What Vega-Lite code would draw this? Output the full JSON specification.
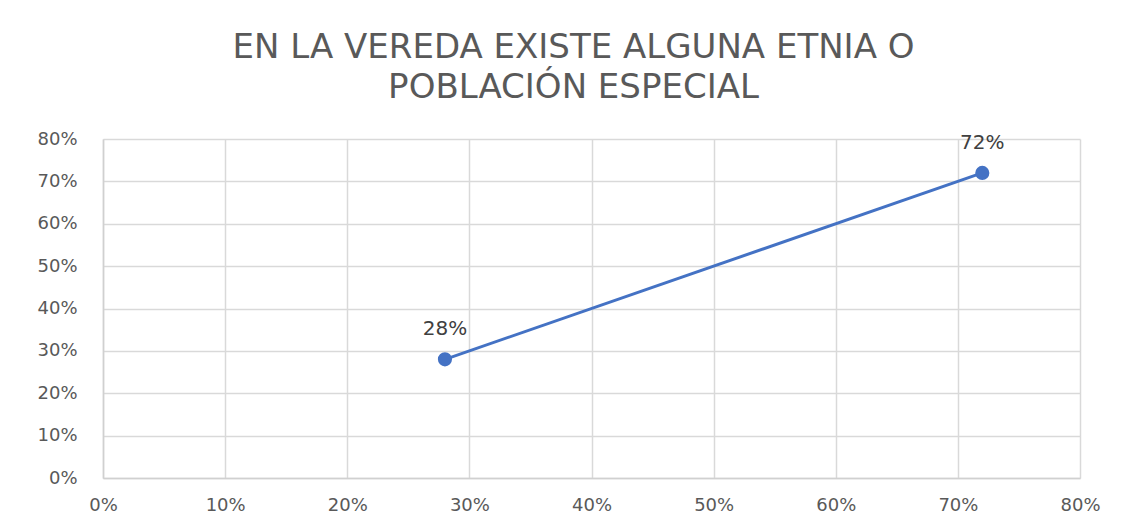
{
  "$schema": "https://vega.github.io/schema/vega-lite/v6.json",
  "width": 977,
  "height": 339,
  "autosize": "none",
  "padding": {"left": 103, "top": 139, "right": 57, "bottom": 53},
  "background": "white",
  "title": {
    "text": ["EN LA VEREDA EXISTE ALGUNA ETNIA O", "POBLACIÓN ESPECIAL"],
    "font": "DejaVu Sans",
    "fontSize": 34,
    "fontWeight": "normal",
    "color": "#595959",
    "anchor": "middle",
    "frame": "bounds",
    "lineHeight": 40,
    "offset": 25,
    "dx": 5
  },
  "config": {
    "view": {"stroke": null},
    "axis": {
      "labelFont": "DejaVu Sans",
      "labelFontSize": 18,
      "labelColor": "#595959",
      "gridColor": "#d9d9d9",
      "gridWidth": 1.5,
      "domainColor": "#d0d0d0",
      "domainWidth": 1.5,
      "ticks": false,
      "title": null,
      "labelFlush": false
    }
  },
  "data": {
    "values": [
      {"x": 0.28, "y": 0.28, "label": "28%"},
      {"x": 0.72, "y": 0.72, "label": "72%"}
    ]
  },
  "encoding": {
    "x": {"field": "x", "type": "quantitative", "scale": {"domain": [0, 0.8], "nice": false}, "axis": {"format": ".0%", "values": [0, 0.1, 0.2, 0.3, 0.4, 0.5, 0.6, 0.7, 0.8], "labelPadding": 18}},
    "y": {"field": "y", "type": "quantitative", "scale": {"domain": [0, 0.8], "nice": false}, "axis": {"format": ".0%", "values": [0, 0.1, 0.2, 0.3, 0.4, 0.5, 0.6, 0.7, 0.8], "labelPadding": 26}}
  },
  "layer": [
    {"mark": {"type": "line", "color": "#4472C4", "strokeWidth": 3}},
    {"mark": {"type": "point", "filled": true, "color": "#4472C4", "size": 200, "opacity": 1}},
    {"mark": {"type": "text", "font": "DejaVu Sans", "fontSize": 20, "color": "#404040", "baseline": "bottom", "dy": -20}, "encoding": {"text": {"field": "label"}}}
  ]
}
